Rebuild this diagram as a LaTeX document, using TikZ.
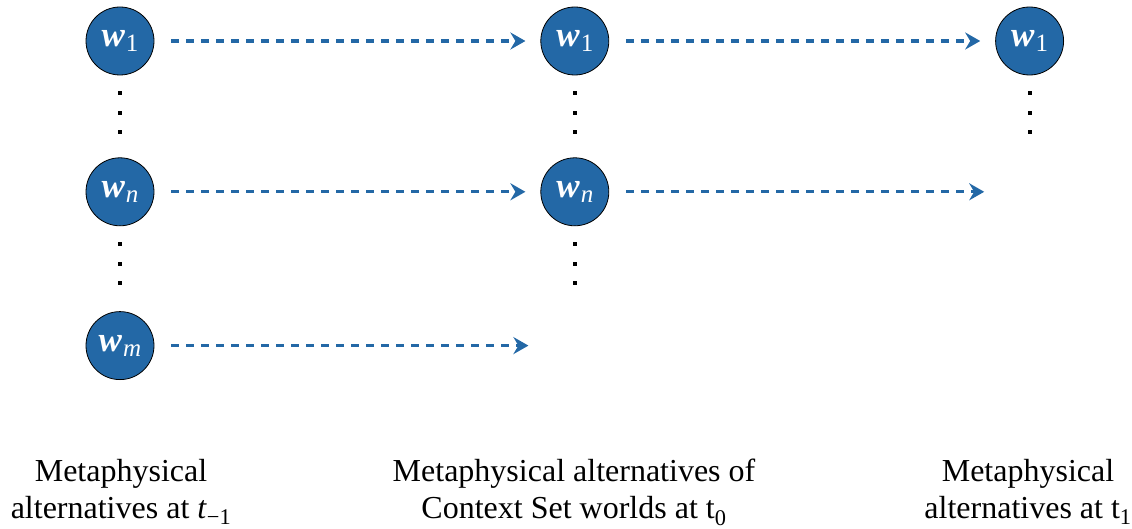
\documentclass[tikz,border=0pt]{standalone}
\usepackage{fontspec}
\setmainfont{Liberation Serif}
\usetikzlibrary{positioning,arrows.meta}
\definecolor{worldblue}{RGB}{35,104,166}

% world label: bold italic w with a lowered index
\newcommand{\wlab}[1]{\textbf{\textit{w}}\kern1pt\raisebox{-5pt}{\fontsize{25}{25}\selectfont #1}}

\begin{document}
\begin{tikzpicture}[
  x=1pt, y=-1pt,
  node distance = 82pt and 386pt,
  world/.style = {circle, draw=black, line width=0.8pt, fill=worldblue,
                  text=white, minimum size=68pt, inner sep=0pt,
                  font=\fontsize{35}{35}\selectfont},
  dot/.style   = {fill=black, inner sep=0pt, minimum size=4pt},
  arr/.style   = {-{Stealth[length=15pt, width=17pt, inset=5pt]}, worldblue,
                  line width=3.4pt, dash pattern=on 8pt off 7pt,
                  shorten <=17pt, shorten >=15pt},
  lab/.style   = {align=center, anchor=north, inner sep=0pt,
                  font=\fontsize{32}{37}\selectfont},
]
\useasboundingbox (0,0) rectangle (1132,529);
% column 1: t_{-1}
\node[world] (w1a) at (120,41) {\wlab{1}};
\node[world, below=of w1a] (wna) {\wlab{\textit{n}}};
\node[world, below=85pt of wna] (wma) {\wlab{\textit{m}}};
% column 2: t_0
\node[world, right=of w1a] (w1b) {\wlab{1}};
\node[world, right=of wna] (wnb) {\wlab{\textit{n}}};
\coordinate[right=389pt of wma] (wmb);
% column 3: t_1
\node[world, right=of w1b] (w1c) {\wlab{1}};
\coordinate[right=390pt of wnb] (wnc);
% vertical dots
\foreach \d [count=\i] in {52,72,91} {
  \node[dot] (da\i) at ([yshift=-\d pt]w1a.center) {};
  \node[dot] (db\i) at ([yshift=-\d pt]wna.center) {};
  \node[dot] (dc\i) at ([yshift=-\d pt]w1b.center) {};
  \node[dot] (dd\i) at ([yshift=-\d pt]wnb.center) {};
  \node[dot] (de\i) at ([yshift=-\d pt]w1c.center) {};
}
% labels
\node[lab] (laba) at (121,459) {Metaphysical\\alternatives at \textit{t}\textsubscript{−1}};
\node[lab] (labb) at (574,459) {Metaphysical alternatives of\\Context Set worlds at t\textsubscript{0}};
\node[lab] (labc) at (1028,459) {Metaphysical\\alternatives at t\textsubscript{1}};
% edges
\draw[arr] (w1a) -- (w1b);
\draw[arr] (wna) -- (wnb);
\draw[arr] (wma) -- (wmb);
\draw[arr] (w1b) -- (w1c);
\draw[arr] (wnb) -- (wnc);
\end{tikzpicture}
\end{document}
